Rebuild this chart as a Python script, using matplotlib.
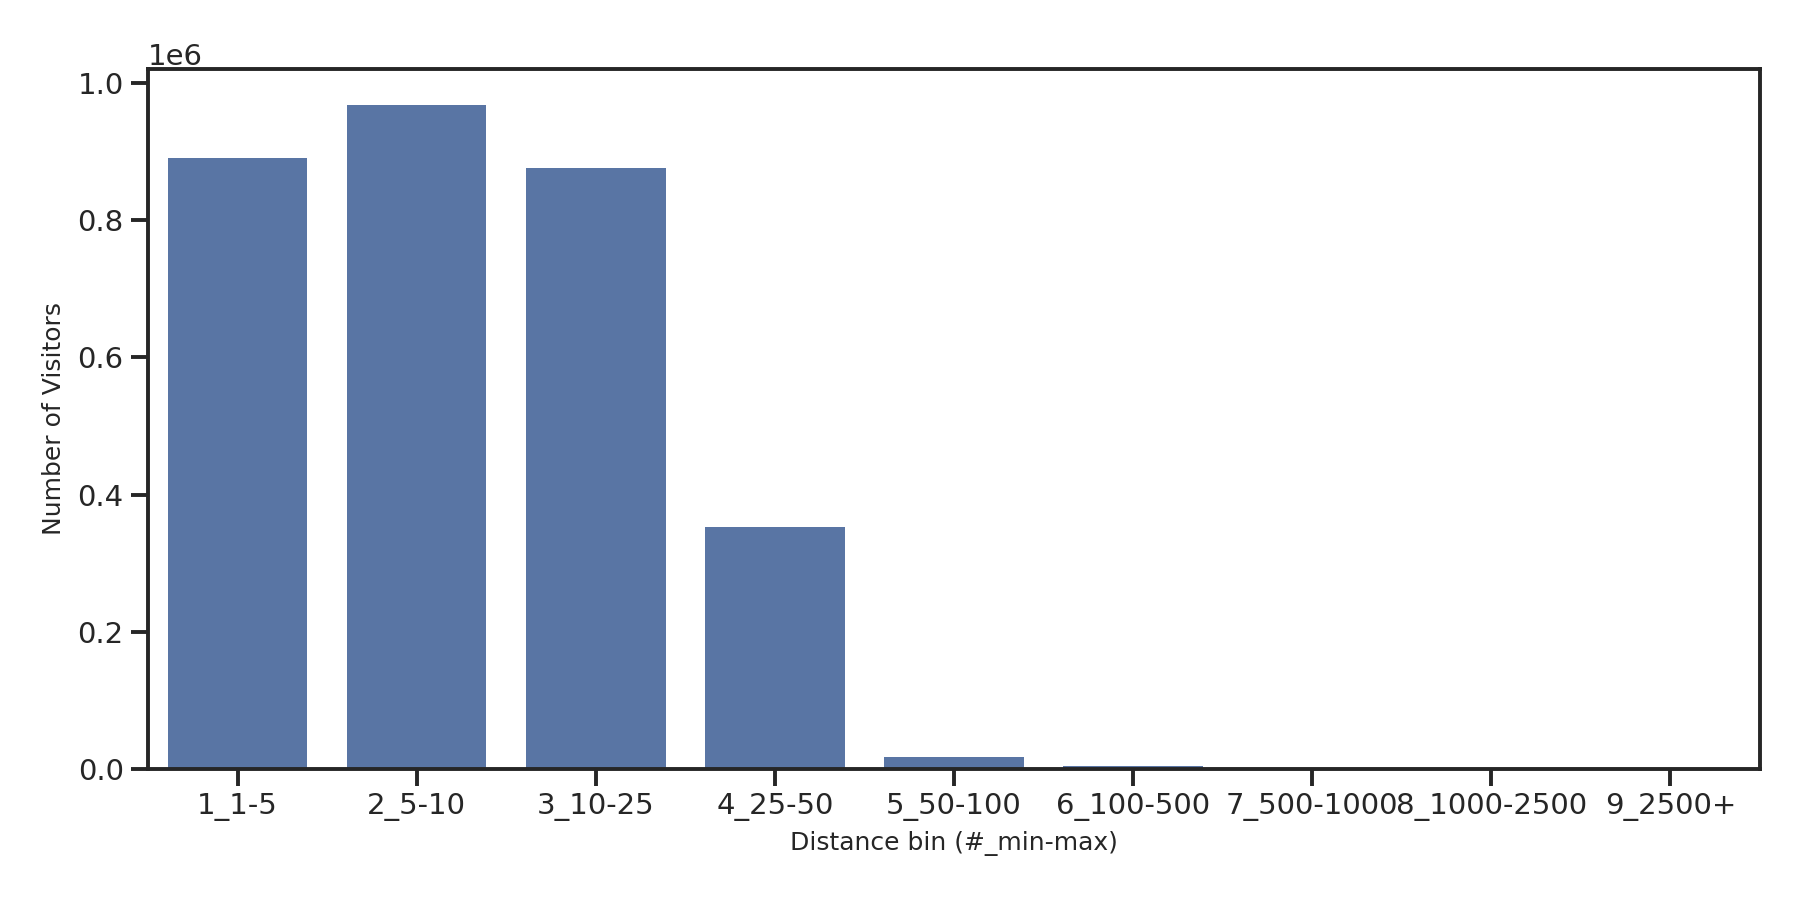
import matplotlib
matplotlib.use("Agg")
import matplotlib.pyplot as plt
import numpy as np

bins = ["1_1-5", "2_5-10", "3_10-25", "4_25-50", "5_50-100",
        "6_100-500", "7_500-1000", "8_1000-2500", "9_2500+"]
visitors = [890600, 968000, 876800, 353400, 17000, 4500, 600, 150, 60]

INK = "#262626"
BAR = "#5975a4"

plt.rcParams.update({
    "font.family": "DejaVu Sans",
    "text.color": INK,
    "axes.labelcolor": INK,
    "xtick.color": INK,
    "ytick.color": INK,
    "axes.edgecolor": INK,
})

fig = plt.figure(figsize=(18, 9), dpi=100)
ax = fig.add_axes([0.0822, 0.1456, 0.9778 - 0.0822, 0.9233 - 0.1456])

x = np.arange(len(bins))
ax.bar(x, visitors, width=0.78, color=BAR, linewidth=0, zorder=2)

ax.set_xlim(-0.5, len(bins) - 0.5)
ax.set_ylim(0, 1.0204e6)
ax.set_xticks(x)
ax.set_xticklabels(bins)
ax.set_yticks([0, 0.2e6, 0.4e6, 0.6e6, 0.8e6, 1.0e6])

for s in ax.spines.values():
    s.set_linewidth(2.8)
    s.set_color(INK)
ax.tick_params(axis="both", which="major", length=12, width=2.8,
               labelsize=21, pad=5.5)
ax.yaxis.get_offset_text().set_fontsize(21)

ax.set_xlabel("Distance bin (#_min-max)", fontsize=18, labelpad=7)
ax.set_ylabel("Number of Visitors", fontsize=18, labelpad=8)

fig.savefig("out.png", dpi=100)
